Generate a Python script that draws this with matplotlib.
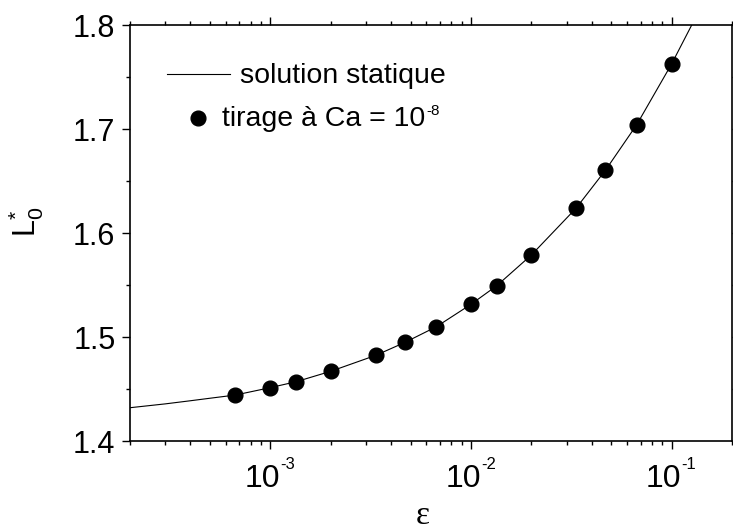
import matplotlib
matplotlib.use("Agg")
import matplotlib.pyplot as plt
from matplotlib.ticker import LogLocator, NullFormatter, MultipleLocator, FormatStrFormatter
import matplotlib.transforms as mtransforms

plt.rcParams['font.family'] = ['Liberation Sans', 'DejaVu Sans']
plt.rcParams['mathtext.fontset'] = 'custom'
plt.rcParams['mathtext.rm'] = 'Liberation Sans'
plt.rcParams['mathtext.it'] = 'Liberation Sans:italic'

# ---- data ----
eps_points = [6.7e-4, 1.0e-3, 1.345e-3, 2.0e-3, 3.36e-3, 4.7e-3, 6.73e-3,
              1.0e-2, 1.345e-2, 2.0e-2, 3.34e-2, 4.68e-2, 6.7e-2, 1.0e-1]
L_points = [1.4442, 1.4513, 1.4570, 1.4670, 1.4824, 1.4949, 1.5099,
            1.5314, 1.5493, 1.5788, 1.6238, 1.6603, 1.7041, 1.7625]

curve_eps = [2e-4, 3e-4, 4e-4, 5e-4, 6.7e-4, 1.0e-3, 1.345e-3, 2.0e-3, 3.36e-3,
             4.7e-3, 6.73e-3, 1.0e-2, 1.345e-2, 2.0e-2, 3.34e-2, 4.68e-2,
             6.7e-2, 1.0e-1, 1.26e-1, 1.3e-1]
curve_L = [1.432, 1.4357, 1.4387, 1.4411, 1.4442, 1.4513, 1.4570, 1.4670, 1.4824,
           1.4949, 1.5099, 1.5314, 1.5493, 1.5788, 1.6238, 1.6603,
           1.7041, 1.7625, 1.800, 1.806]

x_major_exponents = [-3, -2, -1]
y_ticks = [1.4, 1.5, 1.6, 1.7, 1.8]

legend_line_label = "solution statique"
legend_point_label = "tirage à Ca = 10"
legend_point_exp = "-8"

# ---- figure ----
W, H = 733, 531
fig = plt.figure(figsize=(W / 100, H / 100), dpi=100)
left, right, top, bottom = 130, 732, 25, 441
ax = fig.add_axes([left / W, (H - bottom) / H, (right - left) / W, (bottom - top) / H])

ax.plot(curve_eps, curve_L, color='black', lw=0.8, zorder=2)
ax.plot(eps_points, L_points, 'o', color='black', markersize=10.6, zorder=3)

ax.set_xscale('log')
ax.set_xlim(2e-4, 0.2)
ax.set_ylim(1.4, 1.8)

for s in ax.spines.values():
    s.set_linewidth(1.2)

ax.xaxis.set_major_locator(LogLocator(base=10, numticks=10))
ax.xaxis.set_minor_locator(LogLocator(base=10, subs=range(2, 10), numticks=20))
ax.xaxis.set_major_formatter(NullFormatter())
ax.xaxis.set_minor_formatter(NullFormatter())
ax.set_yticks(y_ticks)
ax.yaxis.set_minor_locator(MultipleLocator(0.05))
ax.yaxis.set_major_formatter(FormatStrFormatter('%.1f'))

ax.tick_params(which='major', direction='out', length=5.5, width=1.0,
               top=True, right=True, labelsize=22, pad=5)
ax.tick_params(which='minor', direction='out', length=2.6, width=1.0,
               top=True, right=True)

# x tick labels: 10 with small superscript exponent
for e in x_major_exponents:
    xv = 10.0 ** e
    trans = ax.get_xaxis_transform()
    off_main = mtransforms.offset_copy(trans, fig=fig, x=10, y=-46, units='dots')
    ax.text(xv, 0, "10", transform=off_main, ha='right', va='baseline',
            fontsize=23, clip_on=False)
    off_exp = mtransforms.offset_copy(trans, fig=fig, x=10, y=-28, units='dots')
    ax.text(xv, 0, f"{e}", transform=off_exp, ha='left', va='baseline',
            fontsize=12, clip_on=False)

# axis labels
ax.text(0.487, -0.18, "ε", transform=ax.transAxes, ha='center', va='center',
        fontsize=24, family=['Liberation Serif', 'DejaVu Serif'])
ax.set_ylabel(r"$\mathrm{L}_0^{\mathrm{*}}$", fontsize=22)
ax.yaxis.set_label_coords(-0.14, 0.526)

# legend (drawn manually)
ax.plot([0.061, 0.166], [0.882, 0.882], color='black', lw=0.8,
        transform=ax.transAxes, clip_on=False)
ax.text(0.1827, 0.860, legend_line_label, transform=ax.transAxes,
        ha='left', va='baseline', fontsize=20.5)
ax.plot([0.1131], [0.777], 'o', color='black', markersize=10.6,
        transform=ax.transAxes, clip_on=False)
t2 = ax.text(0.1523, 0.758, legend_point_label, transform=ax.transAxes,
             ha='left', va='baseline', fontsize=20.5)
ax.annotate(legend_point_exp, xy=(1, 1), xycoords=t2, xytext=(1, 2),
            textcoords='offset pixels', ha='left', va='top', fontsize=11)

fig.savefig("out.png", dpi=100)
